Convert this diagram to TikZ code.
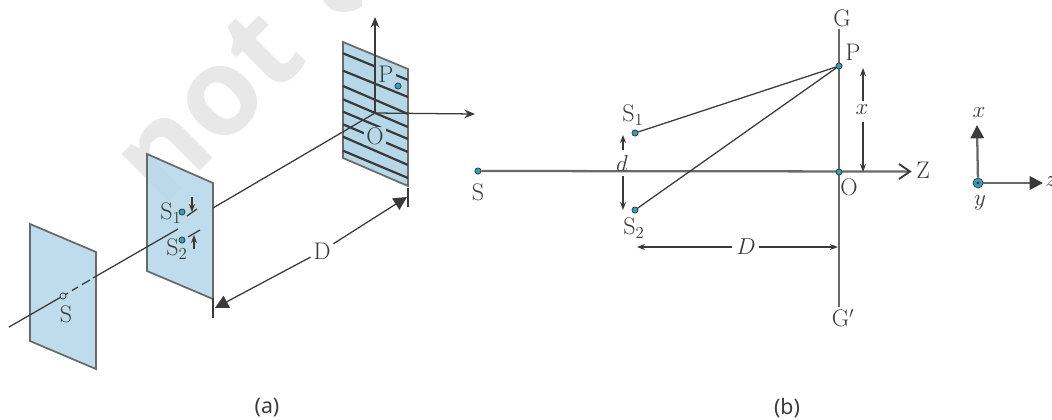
\documentclass[tikz,border=0pt]{standalone}
\usepackage{fontspec}
\newfontfamily\capfont{Noto Sans}
\newfontfamily\markfont{Open Sans}
\usetikzlibrary{arrows.meta}
\definecolor{panelblue}{RGB}{181,215,232}
\definecolor{ink}{RGB}{58,58,58}
\definecolor{rulegrey}{RGB}{105,105,105}
\definecolor{dotblue}{RGB}{48,160,190}
\definecolor{wm}{RGB}{232,232,232}
\tikzset{
 panel/.style={draw=rulegrey,line width=1.3pt,fill=panelblue,fill opacity=.88,line join=miter},
 ray/.style={draw=ink,line width=.95pt},
 fringe/.style={draw=ink,line width=1.65pt},
 axisline/.style={draw=rulegrey,line width=1.7pt},
 smallarrow/.style={draw=ink,line width=.85pt,-{Stealth[length=6pt,width=4.5pt]}},
 bigarrow/.style={draw=ink,line width=.95pt,-{Triangle[length=10pt,width=10pt]}},
 axisarrow/.style={draw=ink,line width=.95pt,-{Stealth[length=8pt,width=6.5pt]}},
 triadarrow/.style={axisline,-{Triangle[length=10pt,width=10pt,color=ink,fill=ink]}},
 dotnode/.style={circle,draw=ink,fill=dotblue,line width=.6pt,inner sep=0pt,minimum size=4.6pt},
 lab/.style={inner sep=0pt,text=ink,font=\fontsize{18}{20}\selectfont},
 panellab/.style={lab,fill=panelblue,inner xsep=1.5pt,inner ysep=.5pt},
 whitelab/.style={lab,fill=white,inner xsep=2pt,inner ysep=1pt},
 caption/.style={inner sep=0pt,text=ink,font=\capfont\fontsize{16}{18}\selectfont},
 tick/.style={draw=ink,line width=.95pt},
}
\begin{document}
\begin{tikzpicture}[x=0.75pt,y=-0.75pt]
\useasboundingbox (0,0) rectangle (1052,419);
% watermark
\node[rotate=45,text=wm,inner sep=0pt,font=\markfont\bfseries\fontsize{92}{96}\selectfont] (wmark) at (208,106) {not};
\fill[wm] (323,0) .. controls (328,9) and (335,12) .. (342,12) .. controls (350,12) and (358,10) .. (362,6) -- (362,0) -- cycle;
% panel a: screens
\draw[panel] (30,224) -- (96,252) -- (96,369) -- (30,341) -- cycle;
\draw[panel] (147,154) -- (213,183) -- (213,299) -- (147,271) -- cycle;
\draw[panel,fill opacity=1] (343,42) -- (408,69) -- (408,186) -- (343,158) -- cycle;
% fringes
\foreach \a/\b in {53.3/80,70.7/97,86/114,99.3/127,111.7/139,124.3/152,136.7/165,150.7/178}
  \draw[fringe] (343,\a) -- (408,\b);
% panel a: axis
\coordinate (a0) at (9,327);
\coordinate (a1) at (68,293);
\coordinate (a2) at (72,290.5);
\coordinate (a3) at (78,287);
\coordinate (a4) at (82,284.5);
\coordinate (a5) at (90,280);
\coordinate (a6) at (93,278);
\coordinate (a7) at (178,229);
\coordinate (a8) at (213,208);
\coordinate (oa) at (375,113);
\coordinate (ya) at (375,17);
\coordinate (za) at (475,114);
\draw[ray] (a0) -- (a1) (a2) -- (a3) (a4) -- (a5) (a6) -- (a7);
\draw[ray] (a8) -- (oa);
\draw[axisarrow] (oa) -- (ya);
\draw[axisarrow] (oa) -- (za);
% panel a: labels and dots
\node[panellab] (Pa) at (386,74) {P};
\node[panellab] (Oa) at (375,136) {O};
\node[dotnode] (pa) at (398,86) {};
\node[dotnode,fill=panelblue] (sa) at (63,296) {};
\node[dotnode] (s1a) at (182,212) {};
\node[dotnode] (s2a) at (182,240) {};
\node[lab] (Sa) at (66,314) {S};
\node[lab,anchor=west] (S1a) at (160,213) {S\textsubscript{1}};
\node[lab,anchor=west] (S2a) at (166,249) {S\textsubscript{2}};
% small slit arrows
\coordinate (d1) at (192,197);
\coordinate (d2) at (192,212);
\coordinate (t1) at (187,216);
\coordinate (t2) at (197,209);
\coordinate (u1) at (194,249);
\coordinate (u2) at (194,235);
\coordinate (t3) at (188,237);
\coordinate (t4) at (200,230);
\draw[smallarrow] (d1) -- (d2);
\draw[tick] (t1) -- (t2);
\draw[smallarrow] (u1) -- (u2);
\draw[tick] (t3) -- (t4);
% D dimension in (a)
\coordinate (tl1) at (213,298);
\coordinate (tl2) at (213,318);
\coordinate (tr1) at (408,188);
\coordinate (tr2) at (408,207);
\coordinate (dl) at (215,308);
\coordinate (dr) at (407,197);
\draw[tick] (tl1) -- (tl2);
\draw[tick] (tr1) -- (tr2);
\node[whitelab] (Da) at (322,251) {D};
\draw[bigarrow] (Da) -- (dl);
\draw[bigarrow] (Da) -- (dr);
\node[caption] (capa) at (267,408) {(a)};
% panel b
\coordinate (gt) at (839,29);
\coordinate (gb) at (839,307);
\draw[axisline] (gt) -- (gb);
\node[dotnode] (sb) at (478,171) {};
\coordinate (zb) at (910,171.5);
\draw[axisline] (sb) -- (zb);
\draw[draw=ink,line width=1.4pt,line join=miter] (899,164) -- (zb) -- (899,179);
\node[dotnode] (pb) at (839,66) {};
\node[dotnode] (ob) at (839,172) {};
\node[dotnode] (s1b) at (635,133) {};
\node[dotnode] (s2b) at (635,210) {};
\draw[ray] (s1b) -- (pb);
\draw[ray] (s2b) -- (pb);
\node[lab] (Gb) at (842,18) {G};
\node[lab] (Gpb) at (843,318) {G$'$};
\node[lab] (Pb) at (853,52) {P};
\node[lab] (Ob) at (849,187) {O};
\node[lab] (Sb) at (478,192) {S};
\node[lab] (Zb) at (923,170) {Z};
\node[lab] (S1b) at (633,115) {S\textsubscript{1}};
\node[lab] (S2b) at (634,228) {S\textsubscript{2}};
% d
\node[lab] (db) at (622,163) {$d$};
\coordinate (dtop) at (623,135);
\coordinate (dbot) at (623,210);
\coordinate (dm1) at (623,150);
\coordinate (dm2) at (623,176);
\draw[smallarrow] (dm1) -- (dtop);
\draw[smallarrow] (dm2) -- (dbot);
% x
\node[lab] (xb) at (862,110) {$x$};
\coordinate (xtop) at (863,68);
\coordinate (xbot) at (863,172);
\draw[smallarrow] (xb) ++(1,-9) coordinate (xm1) -- (xtop);
\draw[smallarrow] (xb) ++(1,12) coordinate (xm2) -- (xbot);
% D
\node[lab] (Db) at (746,247) {$D$};
\coordinate (dleft) at (637,247);
\coordinate (dright) at (838,247);
\draw[smallarrow] (Db) ++(-14,0) coordinate (dm3) -- (dleft);
\draw[smallarrow] (Db) ++(13,0) coordinate (dm4) -- (dright);
\node[caption] (capb) at (787,408) {(b)};
% triad
\coordinate (tx) at (977,125);
\coordinate (tz) at (1043,183);
\node[circle,draw=ink,fill=dotblue,line width=.5pt,inner sep=0pt,minimum size=7.5pt] (tc) at (978,183) {};
\draw[triadarrow] (tc) -- (tx);
\draw[triadarrow] (tc) -- (tz);
\node[circle,fill=ink,inner sep=0pt,minimum size=2.4pt] (tcc) at (tc) {};
\node[lab] (lx) at (979,113) {$x$};
\node[lab] (ly) at (980,203) {$y$};
\node[lab,anchor=west] (lz) at (1045,182) {$z$};
\end{tikzpicture}
\end{document}
